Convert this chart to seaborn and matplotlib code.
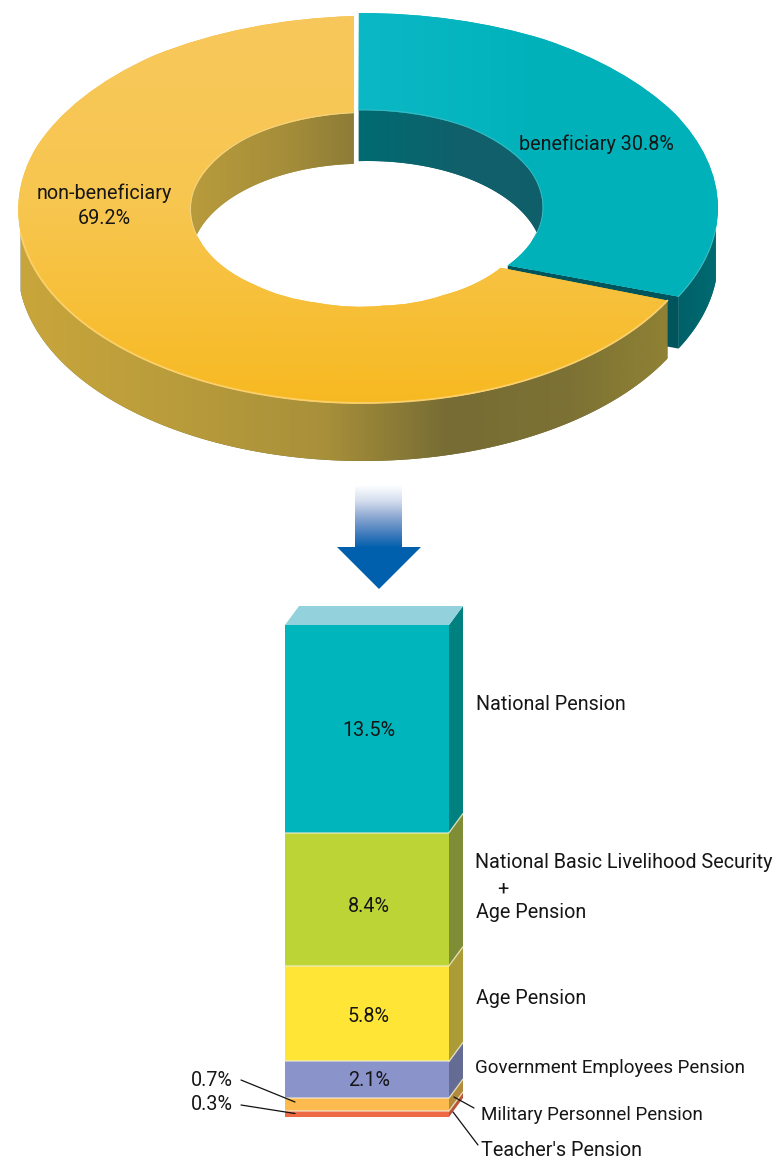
import numpy as np
import matplotlib
matplotlib.use("Agg")
import matplotlib.pyplot as plt
import seaborn as sns
from matplotlib.colors import LinearSegmentedColormap
from matplotlib.patches import Polygon
from matplotlib.transforms import Transform

# Survey shares (percent)
coverage_names = ["beneficiary", "non-beneficiary"]
coverage_shares = [30.8, 69.2]
pension_names = [
    "Teacher's Pension",
    "Military Personnel Pension",
    "Government Employees Pension",
    "Age Pension",
    "National Basic Livelihood Security + Age Pension",
    "National Pension",
]
pension_shares = [0.3, 0.7, 2.1, 5.8, 8.4, 13.5]
pension_labels = ["0.3%", "0.7%", "2.1%", "5.8%", "8.4%", "13.5%"]

front_colors = ["#ee6a45", "#fdba4e", "#8a93ca", "#ffe535", "#bdd436", "#00b5bb"]
side_colors = ["#b9533a", "#b18a3c", "#646c94", "#ab9c37", "#7f8e36", "#00807f"]

W, H, DPI = 777, 1163, 100
sns.set_theme(style="white")
plt.rcParams["font.family"] = ["Roboto", "Liberation Sans", "DejaVu Sans"]
TEXT = "#161616"
FS = 14.2

fig = plt.figure(figsize=(W / DPI, H / DPI), dpi=DPI, facecolor="white")
canvas = fig.add_axes([0, 0, 1, 1])


class RingView(Transform):
    """Tilted view of a unit disc: maps polar pie coordinates to the canvas."""
    input_dims = output_dims = 2

    def __init__(self, cx, cy, a, b, twist, twist_in):
        super().__init__()
        self.cx, self.cy, self.a, self.b = cx, cy, a, b
        self.twist, self.twist_in = twist, twist_in

    def transform_non_affine(self, xy):
        xy = np.asarray(xy, float)
        r = np.hypot(xy[:, 0], xy[:, 1])
        th = np.arctan2(xy[:, 0], xy[:, 1])
        th = (th + np.radians(self.twist + self.twist_in * (1 - r)) * np.sin(th)
              - np.radians(2.7 * (1 - r)) * np.cos(th) ** 8)
        return np.column_stack([self.cx + self.a * r * np.sin(th),
                                self.cy - self.b * r * np.cos(th)])

    def arc(self, r, start, stop, n=160):
        t = np.radians(np.linspace(start, stop, n))
        return self.transform_non_affine(np.column_stack([r * np.sin(t), r * np.cos(t)]))


def gradient(ax, stops, extent, clip, horizontal=True, zorder=2):
    cmap = LinearSegmentedColormap.from_list("g", stops)
    ramp = np.linspace(0, 1, 256)
    arr = ramp[None, :] if horizontal else ramp[:, None]
    im = ax.imshow(arr, cmap=cmap, extent=extent, aspect="auto", zorder=zorder,
                   interpolation="bilinear", vmin=0, vmax=1)
    im.set_clip_path(clip)
    return im


def wall(ax, view, r, start, stop, depth, stops, zorder=2):
    top = view.arc(r, start, stop)
    low = top + [0, depth]
    pts = np.vstack([top, low[::-1]])
    patch = Polygon(pts, closed=True, transform=ax.transData, fc=stops[len(stops) // 2][1], ec="none", zorder=zorder)
    ax.add_patch(patch)
    x0, x1 = pts[:, 0].min(), pts[:, 0].max()
    y0, y1 = pts[:, 1].min(), pts[:, 1].max()
    gradient(ax, [(s, c) for s, c in stops], (x0, x1, y1, y0), patch, zorder=zorder + 0.1)


# Ring: a pie with a hole, each slice seen through its own tilted view
wedges, _ = canvas.pie(coverage_shares, startangle=91.3, counterclock=False, radius=1,
                       wedgeprops=dict(width=0.5, linewidth=0))
canvas.set_aspect("auto")
canvas.set_xlim(0, W)
canvas.set_ylim(H, 0)
canvas.set_frame_on(False)

teal_view = RingView(368, 207, 350, 194, 8.4, 20.2)
gold_view = RingView(363, 209.5, 345, 193.5, 9.0, 19.0)
start = 90 - wedges[0].theta2
cut = 90 - wedges[0].theta1

wedges[0].set(facecolor="#00b2ba", transform=teal_view + canvas.transData, zorder=5)
wedges[1].set(facecolor="#f7bd2c", transform=gold_view + canvas.transData, zorder=7)

# Far inner walls
wall(canvas, gold_view, 0.5, 268, start + 360, 51,
     [(0, "#b89b3c"), (0.6, "#a48d3a"), (1, "#8d7c37")], zorder=1)
wall(canvas, teal_view, 0.5, start, 92, 51,
     [(0, "#006b72"), (0.6, "#125f6a"), (1, "#0f5f6a")], zorder=1)

# Outer wall and cut face of the teal slice
wall(canvas, teal_view, 1.0, 88, cut, 52, [(0, "#006068"), (1, "#006a71")], zorder=2)
corner_out = teal_view.arc(1.0, cut, cut, 2)[0]
corner_in = teal_view.arc(0.5, cut, cut, 2)[0]
canvas.add_patch(Polygon([corner_in, corner_out, corner_out + [0, 52], corner_in + [0, 52]],
                         fc="#00555c", ec="none", zorder=3))

# Outer wall of the gold slice
wall(canvas, gold_view, 1.0, cut, 272, 58,
     [(0, "#c9a63c"), (0.25, "#b89b3b"), (0.47, "#a8903a"), (0.66, "#766c34"),
      (0.85, "#7d7234"), (1, "#8f8134")], zorder=6)

# Shaded top faces
gradient(canvas, ["#f8c85c", "#f7c64f", "#f7b920"], (10, 700, 410, 10), wedges[1],
         horizontal=False, zorder=7.1)
gradient(canvas, ["#0bb9c6", "#00b1ba", "#00b2ba"], (355, 725, 300, 10), wedges[0], zorder=5.1)

# Thin highlights along the top rims
rim = gold_view.arc(1.0, cut, 272)
canvas.plot(rim[:, 0], rim[:, 1], color="#fbd06c", lw=1.3, zorder=7.3)
rim = gold_view.arc(0.5, 272, start + 360)
canvas.plot(rim[:, 0], rim[:, 1], color="#efdca0", lw=0.7, alpha=0.7, zorder=7.3)
rim = teal_view.arc(1.0, 88, cut)
canvas.plot(rim[:, 0], rim[:, 1], color="#5cc4c8", lw=0.8, alpha=0.7, zorder=5.3)
rim = teal_view.arc(0.5, start, 90)
canvas.plot(rim[:, 0], rim[:, 1], color="#62bcc4", lw=0.7, alpha=0.6, zorder=5.3)

canvas.text(104, 193, coverage_names[1], ha="center", va="center", fontsize=FS, color=TEXT, zorder=9)
canvas.text(104, 219, f"{coverage_shares[1]}%", ha="center", va="center", fontsize=FS, color=TEXT, zorder=9)
canvas.text(596, 144, f"{coverage_names[0]} {coverage_shares[0]}%", ha="center", va="center",
            fontsize=FS, color=TEXT, zorder=9)

# Down arrow with a fading shaft
shaft = Polygon([(355, 485), (402, 485), (402, 548), (355, 548)], transform=canvas.transData, fc="none", ec="none")
canvas.add_patch(shaft)
gradient(canvas, [(0, "#ffffff"), (0.25, "#d5deee"), (0.5, "#8fa9d2"), (0.8, "#3a78bb"), (1, "#0060ae")],
         (355, 402, 548, 485), shaft, horizontal=False)
canvas.add_patch(Polygon([(337, 547), (421, 547), (379, 589)], fc="#0060ae", ec="none", zorder=3))

# Stacked column of pension types
BAR_L, BAR_R, BAR_T, BAR_B = 285, 449, 625, 1117
DX, DY = 14, -19
ax = fig.add_axes([BAR_L / W, 1 - BAR_B / H, (BAR_R - BAR_L) / W, (BAR_B - BAR_T) / H], zorder=2)
bottoms = np.concatenate([[0], np.cumsum(pension_shares)[:-1]])
for name, share, base, color in zip(pension_names, pension_shares, bottoms, front_colors):
    sns.barplot(x=["share"], y=[share], bottom=base, color=color, saturation=1, width=1,
                linewidth=0, ax=ax)
ax.set_yscale("function", functions=(lambda v: np.power(np.maximum(v, 0), 0.95),
                                     lambda v: np.power(np.maximum(v, 0), 1 / 0.95)))
ax.set_xlim(-0.5, 0.5)
ax.set_ylim(0, sum(pension_shares))
ax.axis("off")
for level in bottoms[1:]:
    ax.axhline(level, color="#f2efd8", lw=1.3, alpha=0.6)


def level_y(value):
    return H - ax.transData.transform((0, value))[1]


# Side faces and lid follow the column's own scale
tops = bottoms + np.array(pension_shares)
for base, top, color in zip(bottoms, tops, side_colors):
    yb, yt = level_y(base), level_y(top)
    canvas.add_patch(Polygon([(BAR_R, yb), (BAR_R, yt), (BAR_R + DX, yt + DY), (BAR_R + DX, yb + DY)],
                             fc=color, ec="none", zorder=3))
for base in bottoms[1:]:
    yb = level_y(base)
    canvas.plot([BAR_R, BAR_R + DX], [yb, yb + DY], color="#efecc8", lw=1.0, alpha=0.8, zorder=3.5)
canvas.add_patch(Polygon([(BAR_L, BAR_T), (BAR_R, BAR_T), (BAR_R + DX, BAR_T + DY), (BAR_L + DX, BAR_T + DY)],
                         fc="#93d1dd", ec="none", zorder=3))

# Values on the column
for label, y_px in zip(pension_labels[2:], [1081, 1017, 906, 730]):
    canvas.text(369, y_px, label, ha="center", va="center", fontsize=FS, color=TEXT, zorder=9)
canvas.set_zorder(3)
canvas.patch.set_visible(False)

# Values beside the thin layers
canvas.text(191, 1080, pension_labels[1], ha="left", va="center", fontsize=FS, color=TEXT, zorder=9)
canvas.text(191, 1104, pension_labels[0], ha="left", va="center", fontsize=FS, color=TEXT, zorder=9)
canvas.plot([241, 295], [1080, 1102], color="#111111", lw=0.9, zorder=9)
canvas.plot([241, 295], [1105, 1113.5], color="#111111", lw=0.9, zorder=9)
canvas.plot([454, 474], [1097, 1108], color="#111111", lw=0.9, zorder=9)
canvas.plot([453, 478], [1112, 1145], color="#111111", lw=0.9, zorder=9)

# Names to the right of the column
side_labels = [
    (476, 704, "National Pension", FS),
    (475, 863, "National Basic Livelihood Security", FS),
    (497, 889, "+", FS),
    (476, 913, "Age Pension", FS),
    (476, 998, "Age Pension", FS),
    (475, 1068, "Government Employees Pension", 13.5),
    (481, 1115, "Military Personnel Pension", 13.5),
    (481, 1150, "Teacher's Pension", FS),
]
for x_px, y_px, text, size in side_labels:
    canvas.text(x_px, y_px, text, ha="left", va="center", fontsize=size, color=TEXT, zorder=9)

canvas.set_xlim(0, W)
canvas.set_ylim(H, 0)
canvas.set_xticks([])
canvas.set_yticks([])
fig.savefig("out.png", dpi=DPI, facecolor="white")
